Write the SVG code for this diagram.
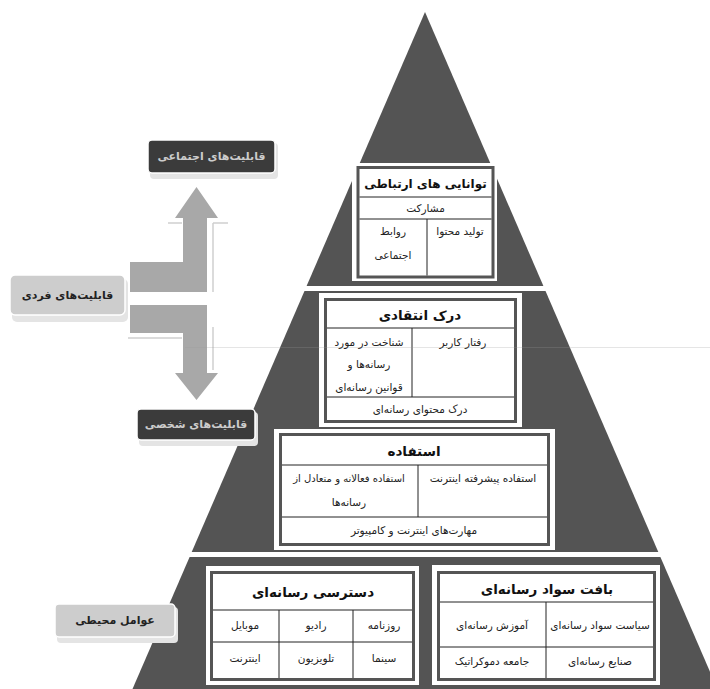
<svg xmlns="http://www.w3.org/2000/svg" width="710" height="689" viewBox="0 0 710 689">
<style>
text{font-family:"DejaVu Sans","Noto Sans",sans-serif;text-anchor:middle;dominant-baseline:central;direction:rtl}
.pyr{fill:#545454}
.frame{fill:#ffffff}
.border{fill:#ffffff;stroke:#555555;stroke-width:3}
.tl{stroke:#222222;stroke-width:1;fill:none}
.ttl{font-size:13.5px;font-weight:bold;fill:#111111}
.cell{font-size:10.5px;fill:#222222}
.arrow{fill:#a8a8a8}
.refl{stroke:#cfcfcf;stroke-width:1.5;fill:none}
.dark{fill:#3b3b3b;stroke:#ffffff;stroke-width:1.5}
.light{fill:#cdcdcd;stroke:#ffffff;stroke-width:1.5}
.shadow{fill:#e4e4e4}
.dtxt{font-size:11px;font-weight:bold;fill:#cccccc}
.ltxt{font-size:11px;font-weight:bold;fill:#222222}
</style>
<rect x="0" y="0" width="710" height="689" fill="#ffffff"/>
<g id="pyramid">
<polygon class="pyr" points="425,12 306.6,286 543.4,286"/>
<polygon class="pyr" points="304.5,291 545.5,291 658.3,552 191.7,552"/>
<polygon class="pyr" points="189.6,557 660.4,557 717.5,689 132.5,689"/>
</g>
<g id="connectors">
<polygon class="arrow" points="130,262 183,262 183,218 175,218 196.5,187 218,218 207,218 207,292 130,292"/>
<polygon class="arrow" points="130,305 207,305 207,373 218,373 196.5,400 175,373 183,373 183,333 130,333"/>
<path class="refl" d="M168,223 H182 M213,223 H228 M213,223 V292 M128,338 H182 M213,327 V370"/>
</g>
<g id="node-communication">
<rect class="frame" x="352" y="163" width="145" height="118"/>
<rect class="border" x="358" y="167.5" width="135" height="109.5"/>
<path class="tl" d="M359.5,197 H491.5 M359.5,219 H491.5 M427,219 V275.5"/>
<text class="ttl" x="425.5" y="184" style="font-size:12px">توانایی های ارتباطی</text>
<text class="cell" x="425.5" y="208">مشارکت</text>
<text class="cell" x="460" y="231">تولید محتوا</text>
<text class="cell" x="393" y="231">روابط</text>
<text class="cell" x="393" y="255">اجتماعی</text>
</g>
<g id="node-critical">
<rect class="frame" x="319" y="293" width="203" height="134"/>
<rect class="border" x="325.5" y="299.5" width="190" height="122"/>
<path class="tl" d="M327,328 H514 M327,397 H514 M412,328 V397"/>
<text class="ttl" x="420" y="315">درک انتقادی</text>
<text class="cell" x="463" y="342">رفتار کاربر</text>
<text class="cell" x="369" y="342">شناخت در مورد</text>
<text class="cell" x="369" y="364">رسانه‌ها و</text>
<text class="cell" x="369" y="387">قوانین رسانه‌ای</text>
<text class="cell" x="420" y="409">درک محتوای رسانه‌ای</text>
</g>
<g id="node-use">
<rect class="frame" x="274" y="429" width="281" height="121"/>
<rect class="border" x="280.5" y="434.5" width="268" height="110"/>
<path class="tl" d="M282,465 H547 M282,517 H547 M418,465 V517"/>
<text class="ttl" x="414" y="451">استفاده</text>
<text class="cell" x="483" y="478">استفاده پیشرفته اینترنت</text>
<text class="cell" x="349" y="478" style="font-size:10px">استفاده فعالانه و متعادل از</text>
<text class="cell" x="349" y="502">رسانه‌ها</text>
<text class="cell" x="414" y="530">مهارت‌های اینترنت و کامپیوتر</text>
</g>
<g id="node-access">
<rect class="frame" x="206" y="566" width="213" height="119"/>
<rect class="border" x="211.5" y="572.5" width="202" height="107"/>
<path class="tl" d="M213,610 H412 M213,642 H412 M279,610 V678 M353,610 V678"/>
<text class="ttl" x="313" y="592">دسترسی رسانه‌ای</text>
<text class="cell" x="384" y="625">روزنامه</text>
<text class="cell" x="316" y="625">رادیو</text>
<text class="cell" x="245" y="625">موبایل</text>
<text class="cell" x="384" y="658">سینما</text>
<text class="cell" x="316" y="658">تلویزیون</text>
<text class="cell" x="245" y="658">اینترنت</text>
</g>
<g id="node-context">
<rect class="frame" x="432" y="565" width="228" height="120"/>
<rect class="border" x="438.5" y="572.5" width="216" height="107"/>
<path class="tl" d="M440,602 H653 M440,647 H653 M546,602 V678"/>
<text class="ttl" x="547" y="589">بافت سواد رسانه‌ای</text>
<text class="cell" x="600" y="625">سیاست سواد رسانه‌ای</text>
<text class="cell" x="492" y="625">آموزش رسانه‌ای</text>
<text class="cell" x="600" y="661">صنایع رسانه‌ای</text>
<text class="cell" x="492" y="661">جامعه دموکراتیک</text>
</g>
<g id="node-social">
<rect class="shadow" x="150" y="143" width="128" height="36" rx="4"/>
<rect class="dark" x="148" y="140" width="127" height="33" rx="4"/>
<text class="dtxt" x="211.5" y="156.5">قابلیت‌های اجتماعی</text>
</g>
<g id="node-individual">
<rect class="shadow" x="12" y="279" width="116" height="43" rx="5"/>
<rect class="light" x="10" y="275" width="115" height="40" rx="5"/>
<text class="ltxt" x="67.5" y="295">قابلیت‌های فردی</text>
</g>
<g id="node-personal">
<rect class="shadow" x="139" y="412" width="119" height="34" rx="4"/>
<rect class="dark" x="137" y="409" width="118" height="31" rx="4"/>
<text class="dtxt" x="196" y="424.5">قابلیت‌های شخصی</text>
</g>
<g id="node-environment">
<rect class="shadow" x="57" y="607" width="121" height="36" rx="4"/>
<rect class="light" x="55" y="604" width="120" height="33" rx="4"/>
<text class="ltxt" x="115" y="620.5">عوامل محیطی</text>
</g>
<line x1="185" y1="347.5" x2="710" y2="347.5" stroke="#999999" stroke-opacity="0.25" stroke-width="1"/>
</svg>
